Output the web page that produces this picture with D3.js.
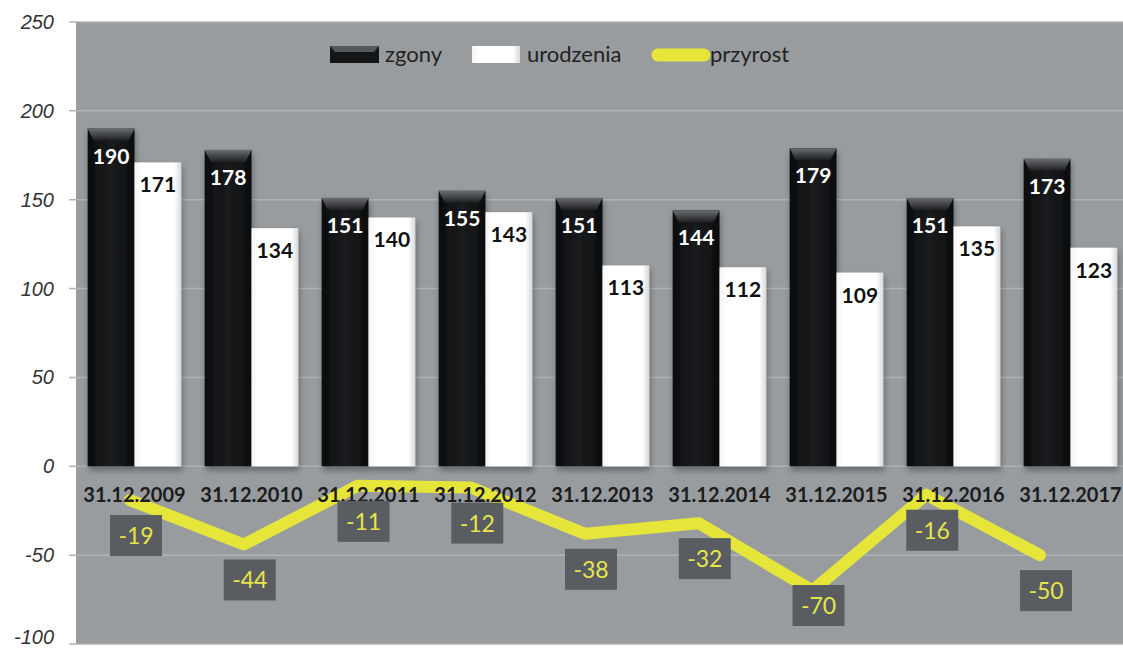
<!DOCTYPE html>
<html>
<head>
<meta charset="utf-8">
<script src="https://cdn.jsdelivr.net/npm/d3@7"></script>
<style>
	body { margin: 0; background: #fff; }
	svg { display: block; }
</style>
</head>
<body>
<svg id="chart" width="1123" height="650"></svg>
<script>
const categories = ["31.12.2009", "31.12.2010", "31.12.2011", "31.12.2012", "31.12.2013",
	"31.12.2014", "31.12.2015", "31.12.2016", "31.12.2017"];
const zgony = [190, 178, 151, 155, 151, 144, 179, 151, 173];
const urodzenia = [171, 134, 140, 143, 113, 112, 109, 135, 123];
const przyrost = [-19, -44, -11, -12, -38, -32, -70, -16, -50];
const yTicks = [-100, -50, 0, 50, 100, 150, 200, 250];

const svg = d3.select("#chart");
const plotLeft = 76, plotRight = 1129, plotTop = 22, plotBottom = 644;
const font = "Lato, 'Open Sans', sans-serif";

const x = d3.scaleBand()
	.domain(categories)
	.range([plotLeft, plotRight])
	.paddingInner(0.2)
	.paddingOuter(0.1);

const xLine = d3.scalePoint()
	.domain(categories)
	.range([130, 1040]);

const y = d3.scaleLinear()
	.domain([-100, 250])
	.range([plotBottom, plotTop]);

// gradients and shadow
const defs = svg.append("defs");
const blackGrad = defs.append("linearGradient").attr("id", "blackGrad")
	.attr("x1", 0).attr("x2", 1).attr("y1", 0).attr("y2", 0);
blackGrad.append("stop").attr("offset", 0).attr("stop-color", "#0c0d0e");
blackGrad.append("stop").attr("offset", 0.5).attr("stop-color", "#1a1c1e");
blackGrad.append("stop").attr("offset", 1).attr("stop-color", "#0c0d0e");
const bevelGrad = defs.append("linearGradient").attr("id", "bevelGrad")
	.attr("x1", 0).attr("x2", 0).attr("y1", 0).attr("y2", 1);
bevelGrad.append("stop").attr("offset", 0).attr("stop-color", "#6a6d70");
bevelGrad.append("stop").attr("offset", 1).attr("stop-color", "#1c1e20");
const whiteGrad = defs.append("linearGradient").attr("id", "whiteGrad")
	.attr("x1", 0).attr("x2", 1).attr("y1", 0).attr("y2", 0);
whiteGrad.append("stop").attr("offset", 0).attr("stop-color", "#f4f4f4");
whiteGrad.append("stop").attr("offset", 0.15).attr("stop-color", "#ffffff");
whiteGrad.append("stop").attr("offset", 0.85).attr("stop-color", "#ffffff");
whiteGrad.append("stop").attr("offset", 1).attr("stop-color", "#d8d8d8");
const shadow = defs.append("filter").attr("id", "shadow")
	.attr("x", "-20%").attr("y", "-10%").attr("width", "140%").attr("height", "130%");
shadow.append("feDropShadow").attr("dx", 1).attr("dy", 4).attr("stdDeviation", 3)
	.attr("flood-color", "#000").attr("flood-opacity", 0.35);

// plot background
svg.append("rect")
	.attr("x", plotLeft).attr("y", plotTop)
	.attr("width", plotRight - plotLeft).attr("height", plotBottom - plotTop)
	.attr("fill", "#989c9f");

// grid lines
svg.append("g").selectAll("line")
	.data(yTicks)
	.enter()
	.append("line")
	.attr("x1", plotLeft - 7).attr("x2", plotRight)
	.attr("y1", d => y(d)).attr("y2", d => y(d))
	.attr("stroke", "#b0b3b6")
	.attr("stroke-width", 1.5);

// y labels
svg.append("g").selectAll("text")
	.data(yTicks)
	.enter()
	.append("text")
	.attr("x", 54)
	.attr("y", d => Math.min(y(d) + 7, 644))
	.attr("text-anchor", "end")
	.attr("font-family", "'Liberation Sans', Arial, sans-serif")
	.attr("font-style", "italic")
	.attr("font-size", 20)
	.attr("fill", "#333")
	.text(d => d);

// bars
const bw = x.bandwidth() / 2;
const groups = svg.append("g").selectAll("g")
	.data(categories)
	.enter()
	.append("g")
	.attr("transform", d => `translate(${x(d)},0)`);

groups.append("rect")
	.attr("x", 0)
	.attr("y", (_, i) => y(zgony[i]))
	.attr("width", bw)
	.attr("height", (_, i) => y(0) - y(zgony[i]))
	.attr("fill", "url(#blackGrad)")
	.attr("filter", "url(#shadow)");

groups.append("path")
	.attr("d", (_, i) => {
		const t = y(zgony[i]);
		return `M0,${t} L${bw},${t} L${bw - 6},${t + 12} L6,${t + 12} Z`;
	})
	.attr("fill", "url(#bevelGrad)");

groups.append("rect")
	.attr("x", bw)
	.attr("y", (_, i) => y(urodzenia[i]))
	.attr("width", bw)
	.attr("height", (_, i) => y(0) - y(urodzenia[i]))
	.attr("fill", "url(#whiteGrad)")
	.attr("filter", "url(#shadow)");

groups.append("text")
	.attr("x", bw / 2)
	.attr("y", (_, i) => y(zgony[i]) + 35)
	.attr("text-anchor", "middle")
	.attr("font-family", font)
	.attr("font-weight", "bold")
	.attr("font-size", 21)
	.attr("fill", "#fff")
	.text((_, i) => zgony[i]);

groups.append("text")
	.attr("x", bw * 1.5)
	.attr("y", (_, i) => y(urodzenia[i]) + 30)
	.attr("text-anchor", "middle")
	.attr("font-family", font)
	.attr("font-weight", "bold")
	.attr("font-size", 21)
	.attr("fill", "#111")
	.text((_, i) => urodzenia[i]);

// przyrost line
const line = d3.line()
	.x((_, i) => xLine(categories[i]))
	.y(d => y(d));

svg.append("path")
	.datum(przyrost)
	.attr("d", line)
	.attr("fill", "none")
	.attr("stroke", "#e6e63a")
	.attr("stroke-width", 12)
	.attr("stroke-linejoin", "round")
	.attr("stroke-linecap", "round");

// category labels (drawn over the line)
svg.append("g").selectAll("text")
	.data(categories)
	.enter()
	.append("text")
	.attr("x", d => x(d) + x.bandwidth() / 2)
	.attr("y", 502)
	.attr("text-anchor", "middle")
	.attr("font-family", font)
	.attr("font-weight", "bold")
	.attr("font-size", 20)
	.attr("fill", "#1c1c1c")
	.text(d => d);

const labels = svg.append("g").selectAll("g")
	.data(przyrost)
	.enter()
	.append("g")
	.attr("transform", (d, i) => {
		const cy = Math.min(y(d) + 36, plotBottom - 38);
		return `translate(${xLine(categories[i]) + 6},${cy})`;
	});

labels.append("rect")
	.attr("x", -26).attr("y", -21)
	.attr("width", 52).attr("height", 41)
	.attr("fill", "#595d61");

labels.append("text")
	.attr("y", 8)
	.attr("text-anchor", "middle")
	.attr("font-family", font)
	.attr("font-size", 23)
	.attr("fill", "#e6e64a")
	.text(d => d);

// legend
const legend = svg.append("g");
legend.append("rect").attr("x", 330).attr("y", 46).attr("width", 49).attr("height", 17)
	.attr("fill", "#131517");
legend.append("path").attr("d", "M330,46 L379,46 L374,52 L335,52 Z").attr("fill", "#55585b");
legend.append("text").attr("x", 385).attr("y", 62).text("zgony");
legend.append("rect").attr("x", 472).attr("y", 46).attr("width", 48).attr("height", 17)
	.attr("fill", "url(#whiteGrad)");
legend.append("text").attr("x", 527).attr("y", 62).text("urodzenia");
legend.append("line").attr("x1", 658).attr("x2", 704).attr("y1", 55).attr("y2", 55)
	.attr("stroke", "#e6e63a").attr("stroke-width", 13).attr("stroke-linecap", "round");
legend.append("text").attr("x", 710).attr("y", 62).text("przyrost");
legend.selectAll("text")
	.attr("font-family", font)
	.attr("font-size", 22)
	.attr("fill", "#222");
</script>
</body>
</html>
